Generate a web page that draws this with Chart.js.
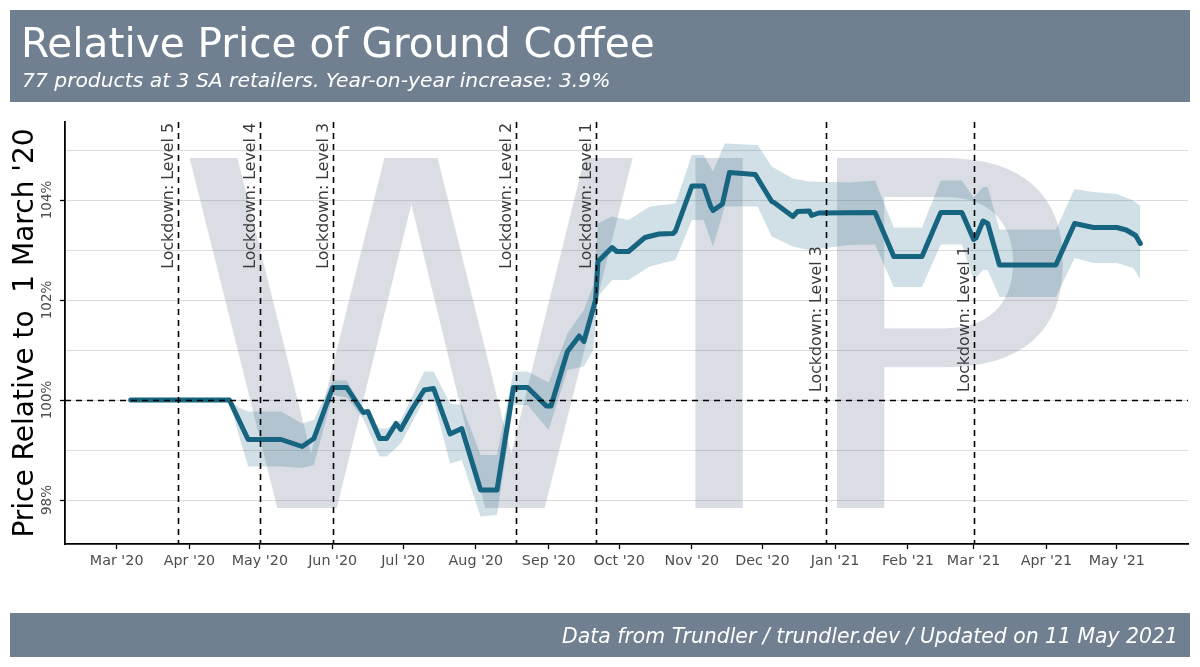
<!DOCTYPE html>
<html><head><meta charset="utf-8">
<script src="https://cdn.jsdelivr.net/npm/chart.js@4.4.1/dist/chart.umd.min.js"></script>
<style>html,body{margin:0;padding:0;background:#fff;}canvas{display:block;}</style>
</head><body>
<canvas id="c" width="1200" height="667"></canvas>
<script>
// ---- data ----
const lineDates = ['2020-03-07','2020-04-18','2020-04-26','2020-05-10','2020-05-19','2020-05-24','2020-06-01','2020-06-07','2020-06-14','2020-06-16','2020-06-21','2020-06-24','2020-06-28','2020-06-30','2020-07-05','2020-07-10','2020-07-14','2020-07-21','2020-07-26','2020-08-03','2020-08-10','2020-08-17','2020-08-23','2020-08-31','2020-09-02','2020-09-09','2020-09-14','2020-09-16','2020-09-21','2020-09-22','2020-09-28','2020-09-30','2020-10-05','2020-10-12','2020-10-18','2020-10-24','2020-10-25','2020-11-01','2020-11-06','2020-11-09','2020-11-10','2020-11-14','2020-11-17','2020-11-28','2020-12-05','2020-12-06','2020-12-14','2020-12-16','2020-12-21','2020-12-22','2020-12-25','2021-01-18','2021-01-26','2021-02-07','2021-02-15','2021-02-24','2021-03-01','2021-03-02','2021-03-05','2021-03-07','2021-03-12','2021-04-05','2021-04-13','2021-04-21','2021-05-01','2021-05-05','2021-05-09','2021-05-11'];
const lineValues = [100,100,99.21,99.21,99.07,99.23,100.25,100.25,99.75,99.77,99.23,99.23,99.53,99.41,99.83,100.2,100.23,99.32,99.43,98.2,98.2,100.25,100.25,99.88,99.88,100.97,101.28,101.17,102.0,102.77,103.05,102.97,102.97,103.25,103.32,103.33,103.38,104.28,104.28,103.87,103.79,103.92,104.55,104.51,103.97,103.95,103.67,103.77,103.78,103.69,103.74,103.75,102.87,102.87,103.75,103.75,103.21,103.24,103.58,103.53,102.70,102.70,103.53,103.45,103.45,103.40,103.29,103.13];

const bandDates = ['2020-03-07','2020-04-18','2020-04-22','2020-04-26','2020-05-10','2020-05-19','2020-05-24','2020-06-01','2020-06-07','2020-06-14','2020-06-21','2020-06-24','2020-06-30','2020-07-10','2020-07-14','2020-07-21','2020-07-26','2020-08-03','2020-08-10','2020-08-17','2020-08-23','2020-09-01','2020-09-09','2020-09-16','2020-09-20','2020-09-22','2020-09-28','2020-10-05','2020-10-14','2020-10-25','2020-11-01','2020-11-06','2020-11-10','2020-11-15','2020-11-29','2020-12-05','2020-12-14','2020-12-21','2021-01-07','2021-01-18','2021-01-26','2021-02-07','2021-02-15','2021-02-24','2021-03-01','2021-03-05','2021-03-07','2021-03-12','2021-04-05','2021-04-13','2021-04-21','2021-05-01','2021-05-08','2021-05-11'];
const bandLow  = [100,100,99.3,98.67,98.67,98.64,98.7,100.1,100.05,99.63,98.87,98.87,99.13,100.0,100.0,98.73,98.8,97.67,97.7,99.9,99.9,99.4,100.6,100.67,101.0,102.07,102.4,102.4,102.67,102.8,103.6,103.6,103.07,103.87,103.87,103.27,103.07,103.0,103.1,103.11,102.26,102.26,103.11,103.11,102.4,102.6,102.6,102.06,102.06,102.84,102.74,102.74,102.64,102.42];
const bandHigh = [100,100,99.85,99.77,99.77,99.53,99.6,100.39,100.39,99.83,99.43,99.43,99.6,100.57,100.57,99.93,99.9,98.9,98.9,100.57,100.57,100.35,101.33,101.8,102.3,103.53,103.67,103.6,103.87,103.93,104.9,104.9,104.57,105.13,105.1,104.67,104.43,104.37,104.35,104.39,103.45,103.45,104.39,104.39,104.05,104.26,104.26,103.41,103.41,104.22,104.16,104.12,103.99,103.88];

const monthTickDates  = ['2020-03-01','2020-04-01','2020-05-01','2020-06-01','2020-07-01','2020-08-01','2020-09-01','2020-10-01','2020-11-01','2020-12-01','2021-01-01','2021-02-01','2021-03-01','2021-04-01','2021-05-01'];
const monthTickLabels = ["Mar '20","Apr '20","May '20","Jun '20","Jul '20","Aug '20","Sep '20","Oct '20","Nov '20","Dec '20","Jan '21","Feb '21","Mar '21","Apr '21","May '21"];

const yGridValues = [98,99,100,101,102,103,104,105];
const yTickValues = [98,100,102,104];
const yTickLabels = ['98%','100%','102%','104%'];

const lockdownDates  = ['2020-03-27','2020-05-01','2020-06-01','2020-08-18','2020-09-21','2020-12-28','2021-03-01'];
const lockdownLabels = ['Lockdown: Level 5','Lockdown: Level 4','Lockdown: Level 3','Lockdown: Level 2','Lockdown: Level 1','Lockdown: Level 3','Lockdown: Level 1'];

const titleText = 'Relative Price of Ground Coffee';
const subtitleText = '77 products at 3 SA retailers. Year-on-year increase: 3.9%';
const footerText = 'Data from Trundler / trundler.dev / Updated on 11 May 2021';
const yTitleText = "Price Relative to  1 March '20";
const watermarkText = 'WIP';
const baseline = 100;

// ---- helpers ----
const ORIGIN = Date.UTC(2020, 2, 1);
function dayOf(s){ const p = s.split('-').map(Number); return (Date.UTC(p[0], p[1]-1, p[2]) - ORIGIN) / 86400000; }
const FONT = '"DejaVu Sans"';
const LINE_COLOR = '#17647f';

const linePts = lineDates.map((d,i)=>({x:dayOf(d), y:lineValues[i]}));
const lowPts  = bandDates.map((d,i)=>({x:dayOf(d), y:bandLow[i]}));
const highPts = bandDates.map((d,i)=>({x:dayOf(d), y:bandHigh[i]}));

const deco = {
  id:'deco',
  beforeDraw(chart){
    const c = chart.ctx; c.save();
    c.fillStyle = '#ffffff'; c.fillRect(0,0,chart.width,chart.height);
    c.fillStyle = '#708090';
    c.fillRect(10,10,1180,92);
    c.fillRect(10,613,1180,44);
    c.fillStyle = '#ffffff'; c.textBaseline = 'alphabetic';
    c.textAlign = 'left';
    c.font = '40.6px ' + FONT; c.fillText(titleText, 21, 57);
    c.font = 'italic 20.3px ' + FONT; c.fillText(subtitleText, 22, 87);
    c.font = 'italic 20.4px ' + FONT;
    c.textAlign = 'right'; c.fillText(footerText, 1178, 643);
    c.restore();
  },
  beforeDatasetsDraw(chart){
    const c = chart.ctx, a = chart.chartArea; c.save();
    c.beginPath(); c.rect(a.left, a.top, a.right-a.left, a.bottom-a.top); c.clip();
    const size = 480;
    c.font = size + 'px ' + FONT;
    c.fillStyle = 'rgba(112,125,145,0.26)';
    c.textAlign = 'center'; c.textBaseline = 'alphabetic';
    c.fillText(watermarkText, (a.left+a.right)/2, (a.top+a.bottom)/2 + size*0.729/2);
    c.restore();
  },
  afterDatasetDraw(chart, args){
    if (args.index !== 1) return;
    const c = chart.ctx, a = chart.chartArea, xs = chart.scales.x, ys = chart.scales.y;
    c.save();
    c.strokeStyle = '#000'; c.lineWidth = 1.6; c.setLineDash([6,5]);
    const yb = Math.round(ys.getPixelForValue(baseline)) + 0.5;
    c.beginPath(); c.moveTo(a.left, yb); c.lineTo(a.right, yb); c.stroke();
    lockdownDates.forEach((d)=>{
      const x = Math.round(xs.getPixelForValue(dayOf(d))) + 0.5;
      c.beginPath(); c.moveTo(x, a.top); c.lineTo(x, a.bottom); c.stroke();
    });
    c.setLineDash([]);
    c.fillStyle = '#3a3a3a'; c.font = '15.8px ' + FONT; c.textBaseline = 'alphabetic';
    lockdownDates.forEach((d,i)=>{
      const x = xs.getPixelForValue(dayOf(d)) - 4.5;
      const low = dayOf(d) > 250;
      c.save();
      if (low) { c.translate(x, ys.getPixelForValue(baseline) - 8); c.rotate(-Math.PI/2); c.textAlign = 'left'; }
      else { c.translate(x, a.top + 1); c.rotate(-Math.PI/2); c.textAlign = 'right'; }
      c.fillText(lockdownLabels[i], 0, 0);
      c.restore();
    });
    c.restore();
  }
};

new Chart(document.getElementById('c'), {
  type:'line',
  data:{ datasets:[
    { data: lowPts, borderColor:'rgba(0,0,0,0)', borderWidth:0, pointRadius:0, fill:false },
    { data: highPts, borderColor:'rgba(0,0,0,0)', borderWidth:0, pointRadius:0, fill:'-1', backgroundColor:'rgba(20,100,130,0.2)' },
    { data: linePts, borderColor: LINE_COLOR, borderWidth:5, pointRadius:0, fill:false, tension:0, borderJoinStyle:'round', borderCapStyle:'round' }
  ]},
  options:{
    responsive:false, animation:false, devicePixelRatio:1,
    layout:{ padding:{ left:0, right:12, top:122, bottom:93 } },
    plugins:{ legend:{display:false}, tooltip:{enabled:false} },
    scales:{
      x:{ type:'linear', min:-22, max:456.3,
        afterBuildTicks: s => { s.ticks = monthTickDates.map(d => ({value: dayOf(d)})); },
        afterFit: s => { s.height = 30; },
        grid:{ drawOnChartArea:false, drawTicks:true, tickLength:5, tickColor:'#000', tickWidth:1.3 },
        border:{ display:true, color:'#000', width:1.8 },
        ticks:{ autoSkip:false, minRotation:0, maxRotation:0, padding:4, color:'#4d4d4d', font:{family:'DejaVu Sans', size:14.3},
          callback:(v,i)=>monthTickLabels[i] }
      },
      y:{ type:'linear', min:97.12, max:105.56,
        afterBuildTicks: s => { s.ticks = yGridValues.map(v => ({value:v})); },
        afterFit: s => { s.width = 65; },
        grid:{ color:'#dcdcdc', lineWidth:1, drawTicks:true, tickLength:5, tickWidth:1.3,
          tickColor: ctx => (ctx.tick && yTickValues.includes(ctx.tick.value)) ? '#000' : 'rgba(0,0,0,0)' },
        border:{ display:true, color:'#000', width:1.8 },
        ticks:{ autoSkip:false, minRotation:90, maxRotation:90, crossAlign:'center', padding:-7, color:'#4d4d4d', font:{family:'DejaVu Sans', size:13.5},
          callback: v => { const i = yTickValues.indexOf(v); return i >= 0 ? yTickLabels[i] : ''; } },
        title:{ display:true, text:yTitleText, color:'#000', font:{family:'DejaVu Sans', size:28}, padding:{top:9, bottom:0} }
      }
    }
  },
  plugins:[deco]
});
</script>
</body></html>
